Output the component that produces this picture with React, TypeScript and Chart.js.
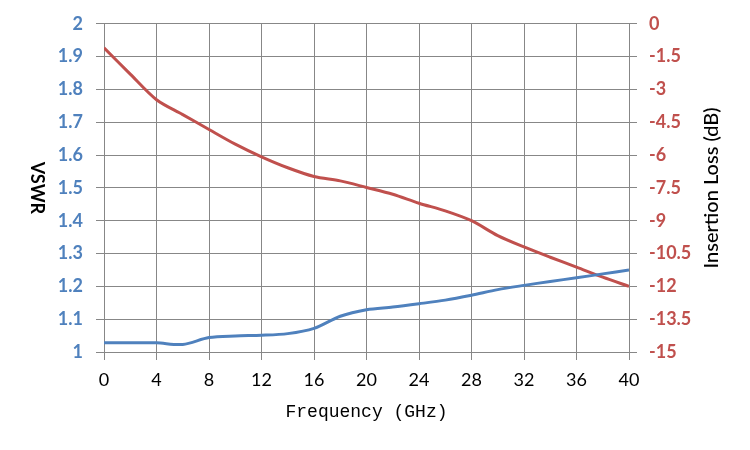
import { useEffect, useRef } from "react";
import { Chart, registerables } from "chart.js";

Chart.register(...registerables);

const freqs = [0, 2, 4, 6, 8, 10, 12, 14, 16, 18, 20, 22, 24, 26, 28, 30, 32, 34, 36, 38, 40];
const vswr = [1.028, 1.028, 1.028, 1.023, 1.044, 1.049, 1.051, 1.056, 1.072, 1.109, 1.129, 1.137, 1.147, 1.158, 1.173, 1.19, 1.203, 1.215, 1.226, 1.238, 1.25];
const insertionLoss = [-1.1, -2.3, -3.47, -4.15, -4.83, -5.5, -6.08, -6.58, -6.98, -7.18, -7.48, -7.79, -8.2, -8.55, -9.0, -9.68, -10.2, -10.67, -11.12, -11.58, -12.0];

const BLUE = "#4F81BD";
const RED = "#C0504D";
const GRID = "#878787";

// Excel-style axis titles: VSWR reads top-down, insertion loss reads bottom-up
const axisTitles = {
  id: "axisTitles",
  afterDraw(chart: Chart) {
    const { ctx, chartArea } = chart;
    const midY = (chartArea.top + chartArea.bottom) / 2;
    ctx.save();
    ctx.fillStyle = "#000";
    ctx.textAlign = "center";
    ctx.textBaseline = "middle";

    ctx.save();
    ctx.translate(chartArea.left - 67, midY);
    ctx.rotate(Math.PI / 2);
    ctx.font = "bold 18px Lato";
    ctx.fillText("VSWR", 0, 0);
    ctx.restore();

    ctx.save();
    ctx.translate(chartArea.right + 83, midY);
    ctx.rotate(-Math.PI / 2);
    ctx.font = "500 20px Lato";
    ctx.fillText("Insertion Loss (dB)", 0, 0);
    ctx.restore();

    ctx.font = "18px 'Liberation Mono'";
    ctx.fillText("Frequency (GHz)", (chartArea.left + chartArea.right) / 2, 412);
    ctx.restore();
  },
};

export default function App() {
  const canvasRef = useRef<HTMLCanvasElement>(null);
  const chartRef = useRef<Chart | null>(null);

  useEffect(() => {
    if (!canvasRef.current) return;
    if (chartRef.current) chartRef.current.destroy();

    chartRef.current = new Chart(canvasRef.current, {
      type: "line",
      data: {
        datasets: [
          {
            label: "VSWR",
            data: freqs.map((f, i) => ({ x: f, y: vswr[i] })),
            borderColor: BLUE,
            borderWidth: 3,
            pointRadius: 0,
            tension: 0.3,
            yAxisID: "y",
          },
          {
            label: "Insertion Loss",
            data: freqs.map((f, i) => ({ x: f, y: insertionLoss[i] })),
            borderColor: RED,
            borderWidth: 3,
            pointRadius: 0,
            tension: 0.3,
            yAxisID: "y2",
          },
        ],
      },
      options: {
        animation: false,
        responsive: true,
        maintainAspectRatio: false,
        layout: { padding: { top: 22, left: 0, right: 0, bottom: 0 } },
        plugins: {
          legend: { display: false },
          tooltip: { enabled: false },
        },
        scales: {
          x: {
            type: "linear",
            min: 0,
            max: 40,
            ticks: { stepSize: 4, color: "#000", font: { family: "Lato", size: 18 }, padding: 9 },
            grid: { color: GRID, tickColor: GRID, tickLength: 8 },
            border: { color: GRID },
            afterFit: (s: any) => { s.height = 98; },
          },
          y: {
            position: "left",
            min: 1,
            max: 2,
            ticks: {
              stepSize: 0.1,
              color: BLUE,
              font: { family: "Lato", size: 18, weight: "bold" },
              padding: 13,
              callback: (v: any) => String(Math.round(Number(v) * 10) / 10),
            },
            grid: { color: GRID, tickColor: GRID, tickLength: 8 },
            border: { color: GRID },
            afterFit: (s: any) => { s.width = 104; },
          },
          y2: {
            position: "right",
            min: -15,
            max: 0,
            ticks: {
              stepSize: 1.5,
              color: RED,
              font: { family: "Lato", size: 18, weight: "bold" },
              padding: 12,
              callback: (v: any) => String(Math.round(Number(v) * 10) / 10),
            },
            grid: { drawOnChartArea: false, color: GRID, tickColor: GRID, tickLength: 8 },
            border: { color: GRID },
            afterFit: (s: any) => { s.width = 121; },
          },
        },
      },
      plugins: [axisTitles],
    });

    return () => {
      if (chartRef.current) {
        chartRef.current.destroy();
        chartRef.current = null;
      }
    };
  }, []);

  return (
    <div style={{ position: "absolute", left: 0, top: 0, width: "750px", height: "450px", background: "#fff" }}>
      <canvas ref={canvasRef} />
    </div>
  );
}
